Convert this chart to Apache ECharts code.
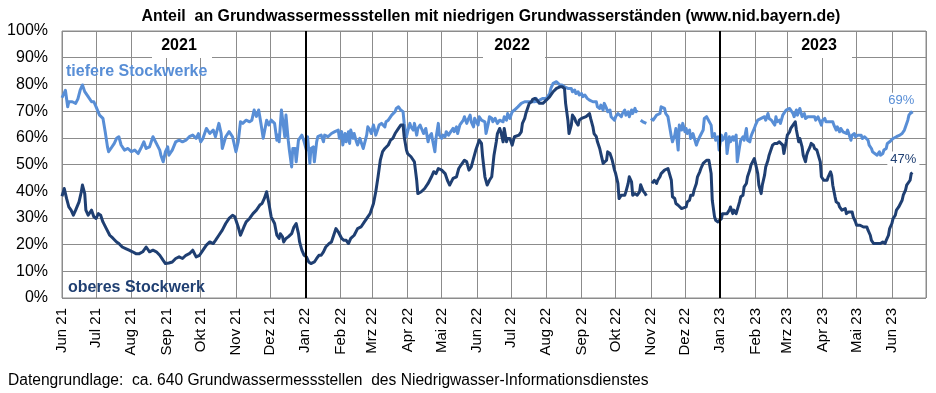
<!DOCTYPE html>
<html><head><meta charset="utf-8">
<script src="https://cdn.jsdelivr.net/npm/echarts@6/dist/echarts.min.js"></script>
<style>html,body{margin:0;padding:0;background:#fff}#c{width:936px;height:393px}</style>
</head><body><div id="c"></div><script>
// Monatsnamen für die Achsenbeschriftung
const monatsNamen = ['Jan','Feb','Mrz','Apr','Mai','Jun','Jul','Aug','Sep','Okt','Nov','Dez'];
const jahre = ['2021','2022','2023'];
const titel = 'Anteil  an Grundwassermessstellen mit niedrigen Grundwasserständen (www.nid.bayern.de)';
const fussnote = 'Datengrundlage:  ca. 640 Grundwassermessstellen  des Niedrigwasser-Informationsdienstes';
const serienNamen = ['tiefere Stockwerke', 'oberes Stockwerk'];
const startJahr = 2021, startMonat = 5, startTag = 1; // 1. Juni 2021
const anzahlTage = 761; // bis 1. Juli 2023

// Werte: [Tag seit 1. Juni 2021, Anteil in %]
const tiefere = [
[0,75],[3,77.8],[5,71.6],[6,73.5],[9,73.5],[12,72.9],[14,74.6],[16,77.9],[18,79.8],[20,77.3],[23,75.4],[26,73.5],[28,73.5],[30,71.6],[33,68.5],[36,67.3],[38,62.3],[40,56.6],[41,54.8],[43,56],[46,57.9],[48,59.8],[50,60.4],[52,57.3],[55,55.4],[58,56],[61,54.8],[64,55.4],[67,54.1],[70,56.6],[72,58.5],[74,56],[77,56.6],[80,60.4],[83,57.9],[86,55.4],[87,53.5],[89,51],[91,54.8],[93,56.6],[94,53.5],[97,55.4],[100,58.5],[103,59.1],[106,58.5],[109,59.1],[112,60.4],[115,61],[118,59.8],[120,61.6],[122,58.5],[124,59.8],[127,63.5],[130,61.6],[133,62.9],[135,60.4],[138,65.4],[140,61.6],[141,56],[144,60.4],[147,62.3],[150,60.4],[153,54.8],[155,58.5],[157,66],[159,65.4],[162,66.6],[165,66],[167,66.6],[169,70.4],[171,68],[173,70.4],[175,65.4],[177,59.8],[180,66.6],[182,64.8],[184,66.6],
[187,65.4],[189,59.1],[190,61],[191,58.5],[193,70.4],[194,69.8],[196,60.4],[197,68.5],[199,59.1],[200,55.4],[202,49.1],[203,56],[205,56],[206,51],[208,59.1],[209,58.5],[211,61],[212,59.8],[213,58.5],[215,55.4],[216,60.4],[218,50.4],[219,56],[221,56.6],[222,51],[224,58.5],[225,60.4],[228,61],[230,58.5],[231,61],[234,60.4],[237,61.6],[240,62.3],[243,62.9],[244,59.8],[246,62.3],[247,57.3],[249,61.6],[250,58.5],[252,62.3],[253,57.9],[254,62.9],[256,59.8],[257,61.6],[259,58.5],[260,57.3],[262,59.8],[263,58.5],[265,56],[266,55.4],[268,61],[269,64.1],[271,62.9],[272,61.6],[274,64.8],[275,62.9],[276,61],[278,63.5],[279,64.8],[281,65.4],[282,66],[284,64.1],[285,66],[287,66.6],[288,67.3],[290,68.5],[291,69.1],[293,69.8],[294,71],[296,71.6],[297,71],[298,70.4],[300,69.8],[301,65.4],[303,60.4],[304,62.3],[306,65.4],[307,64.1],[309,62.9],[310,65.4],[312,61],[313,63.5],[315,64.8],[316,64.1],[318,61.6],[319,61],[320,63.5],[322,58.5],[323,60.4],[325,61.6],[326,59.1],[328,54.8],[329,59.8],[331,65.4],[332,61],[334,59.8],[335,61],[337,60.4],[338,62.3],[340,61],[341,61.6],[342,62.3],[344,63.5],[345,62.3],[347,64.1],[348,61.6],[350,64.8],[351,65.4],[353,66.6],[354,67.9],[356,65.4],[357,66.6],[359,68.5],[360,66],[362,64.1],[363,67.3],[364,67.9],[366,64.8],[367,67.9],[369,66.6],[370,67.3],[372,66],[373,61.6],[375,65.4],[376,67.9],[378,67.3],[379,66],[381,67.3],
[383,65.4],[385,66.6],[386,67.25],[388,66],[389,67.9],[391,66.6],[392,69.1],[394,67.25],[395,68.5],[396,69.75],[398,70.4],[399,71],[401,71.6],[402,72.25],[404,72.9],[405,72.25],[407,73.5],[408,72.9],[410,73.5],[411,74.1],[413,73.5],[414,74.1],[416,73.5],[417,74.75],[418,73.5],[420,74.1],[421,73.5],[423,74.75],[424,74.1],[426,74.75],[427,75.4],[429,76.6],[430,78.5],[432,80.4],[433,79.75],[435,81],[436,80.4],[438,79.75],[439,80.4],[440,79.75],[442,79.1],[443,79.75],[445,78.5],[446,77.9],[448,78.5],[449,77.25],[451,77.9],[452,76.6],[454,77.25],[455,76],[457,76.6],[458,75.4],[460,76],[461,75.4],[462,74.75],[464,74.1],[465,74.75],[467,73.5],[468,72.9],[470,73.5],[471,71.6],[473,71],[474,72.25],[476,70.4],[477,72.9],[479,71],[480,69.75],[482,70.4],[483,67.9],[484,67.25],[486,66.6],[487,67.9],[489,69.1],[490,69.75],[492,67.9],[493,69.1],[495,70.4],[496,68.5],[498,69.75],[499,67.9],[501,70.4],[502,69.1],[504,71],[505,69.75],[506,70.4],[507,null],[509,66.6],[511,66],[512,65.4],[514,65.4],[516,null],[518,67.25],[520,66.6],[521,66],[523,68.5],[524,67.9],[526,69.1],[527,71.6],[528,72.25],[530,71],[531,69.1],[533,67.9],[534,67.25],[536,60.4],[537,58.5],[539,61],[540,63.5],[542,55.4],[543,64.75],[545,62.9],[546,65.4],[548,62.25],[549,63.5],[550,61.6],[552,62.9],[553,59.75],[555,61.6],[556,62.25],[558,57.25],[559,58.5],[561,60.4],[562,61],[564,62.9],[565,67.25],[567,67.9],[568,68.5],
[571,64.75],[572,60.4],[574,61.6],[575,59.1],[577,60.4],[578,55.4],[580,61],[581,59.1],[583,60.4],[584,61.6],[585,54.1],[587,60.4],[588,58.5],[590,60.4],[591,59.1],[593,61],[594,51],[596,56.6],[597,59.1],[599,60.4],[600,59.1],[602,63.5],[603,59.1],[605,58.5],[606,60.4],[607,61.6],[609,63.5],[610,64.75],[612,66.6],[613,66],[615,67.25],[616,66.6],[618,67.9],[619,66.6],[621,69.1],[622,67.25],[624,66.6],[625,66],[627,64.75],[628,67.9],[629,66],[631,66.6],[632,65.4],[634,68.5],[635,69.1],[637,70.4],[638,69.75],[640,71],[641,70.4],[643,69.1],[644,67.9],[646,70.4],[647,68.5],[649,71],[650,71.6],[651,67.9],[653,69.1],[654,67.25],[656,67.9],[657,68.5],[659,67.9],[660,67.25],[662,67.9],[663,66.6],[665,67.9],[666,67.9],[668,64.75],[669,66.6],[671,67.25],[672,66],[673,66.6],[675,66],[676,65.4],[678,66],[679,64.75],[681,62.9],[682,64.1],[684,62.25],[685,63.5],[687,62.25],[688,62.9],[690,61.6],[691,62.9],[693,60.4],[694,59.1],[695,61],[697,61.6],[698,60.4],[700,61],[701,60.4],[703,61],[704,59.75],[706,60.4],[707,59.75],[709,59.1],[710,57.25],[712,56],[713,54.75],[715,54.1],[716,54.75],[717,53.5],[719,54.75],[720,53.5],[722,54.1],[723,55.4],[725,56],[726,57.9],[728,58.5],[729,59.1],[731,59.75],[732,59.1],[734,60.4],[735,59.75],[737,61],[738,60.4],[739,61.6],[741,62.9],[742,63.5],[744,66.6],[745,68.5],[747,69.6],[748,69]
];

const oberes = [
[0,38.1],[2,41],[4,37.3],[6,34.1],[8,32.9],[10,31],[12,32.9],[15,36],[17,39.8],[18,42.3],[20,39.1],[21,32.9],[23,31],[26,32.9],[28,30.4],[30,29.8],[32,31.6],[34,31],[36,28.5],[39,26],[42,23.5],[45,22.3],[48,21],[50,20.4],[53,19.1],[56,18.5],[59,17.9],[62,17.3],[65,16.6],[68,16.6],[71,17.3],[74,19.1],[77,17.3],[80,17.9],[83,17.3],[86,16],[89,14.1],[91,12.9],[94,13.1],[97,13.5],[100,14.8],[103,15.4],[106,14.8],[109,16],[112,16.6],[115,17.9],[118,15.4],[121,16],[124,17.9],[127,19.8],[130,21],[133,20.4],[135,21.6],[138,23.5],[141,25.4],[144,27.9],[147,29.8],[150,31],[152,30.4],[155,26.6],[157,23.5],[160,26.6],[162,28.5],[165,29.8],[168,31.6],[171,32.9],[174,34.8],[176,35.4],[178,37.3],[180,39.8],[182,35.4],[184,30.4],
[187,27.9],[189,23.5],[191,22.3],[192,24.1],[194,22.9],[195,21],[197,22.3],[199,22.9],[202,24.1],[204,26.6],[206,27.9],[208,24.1],[209,21],[211,17.9],[213,16],[215,15.4],[217,13.5],[219,12.9],[222,13.5],[224,14.8],[226,16],[228,16],[230,17.3],[232,19.1],[235,20.4],[237,21],[239,23.5],[241,26],[243,24.8],[246,22.3],[248,21.6],[250,21.6],[252,20.4],[254,22.3],[257,23.5],[260,26],[263,26.6],[266,28.5],[269,30.4],[271,31.6],[274,35.4],[276,39.8],[278,45.4],[280,51.6],[282,54.8],[284,56],[287,57.3],[289,59.1],[291,59.8],[293,61.6],[296,63.5],[298,64.8],[300,64.8],[301,60.4],[303,55.4],[304,54.1],[307,52.9],[310,51],[312,44.1],[313,39.1],[316,39.8],[319,41],[322,42.9],[325,45.4],[327,47.3],[329,46.6],[331,48.5],[334,47.9],[337,46.6],[339,44.1],[341,42.3],[344,44.8],[347,45.4],[349,48.5],[351,49.8],[354,51.6],[356,51],[358,47.9],[360,49.1],[362,52.3],[364,55.4],[367,59.1],[369,57.9],[370,52.9],[372,45.4],[374,42.3],[376,44.1],[378,45.4],
[380,53.5],[382,58.5],[383,61.6],[385,63.5],[386,62.25],[388,58.5],[389,63.5],[391,58.5],[392,59.75],[394,59.75],[395,58.5],[396,57.25],[398,60.4],[399,61],[402,61],[404,62.25],[405,65.4],[407,67.25],[408,69.1],[410,71.6],[411,72.9],[413,73.5],[414,74.4],[416,74.75],[417,74.75],[418,74.1],[420,72.9],[421,72.25],[423,72.9],[424,73.5],[426,74.1],[427,73.5],[429,75.4],[430,76],[432,77.25],[433,77.9],[435,78.5],[438,79.1],[440,79.1],[442,78.5],[443,72.9],[445,66.6],[446,61.6],[448,64.75],[449,68.5],[451,67.25],[452,66],[454,64.75],[455,66.6],[457,67.25],[458,67.25],[461,67.9],[464,69.1],[465,67.25],[467,64.1],[468,61.6],[470,60.4],[471,58.5],[473,56],[474,54.1],[476,50.4],[477,50.4],[479,51.6],[480,54.75],[482,54.1],[483,52.9],[484,51.6],[486,47.9],[487,46.6],[489,42.9],[490,37.25],[492,38.5],[493,39.1],[495,38.5],[496,39.75],[498,42.9],[499,45.4],[501,43.5],[502,38.5],[504,39.1],[505,39.1],[506,38.5],[508,39.75],[509,42.4],[511,40.25],[513,39.1],[514,38.3],[516,null],[519,42.9],[521,44.1],[523,42.9],[524,44.1],[526,45.4],[527,46.6],[528,47.25],[530,47.9],[531,48.5],[533,48.5],[534,47.9],[536,44.1],[537,37.9],[539,37.25],[540,35.4],[542,34.75],[543,34.1],[545,33.5],[546,33.9],[549,34.1],[550,36],[552,36.6],[553,38.5],[555,38.5],[556,40.4],[558,42.9],[559,45.4],[561,47.25],[562,48.5],[564,50.4],[565,49.75],[567,51.6],[568,52.25],
[569,51.6],[571,46.6],[572,36.6],[574,30.4],[575,29.1],[577,28.5],[578,28.5],[580,29.75],[581,31.6],[583,31.6],[584,32.25],[585,31.6],[587,32.9],[588,34.1],[590,31.6],[591,32.9],[593,31.6],[594,32.25],[596,36],[597,37.9],[599,38.5],[600,41.6],[602,42.9],[603,45.4],[605,47.9],[606,49.75],[607,50.4],[609,52.25],[610,50.4],[612,46.6],[613,42.25],[615,39.1],[616,42.25],[618,46],[619,49.1],[621,51.6],[622,53.5],[624,56],[625,57.25],[627,57.9],[628,58.5],[629,57.9],[631,58.5],[632,59.1],[634,57.25],[635,54.1],[637,58.5],[638,61],[640,62.25],[641,63.5],[643,64.75],[644,65.4],[645,66],[646,62.9],[648,58.5],[649,59.75],[651,56.6],[652,53.5],[654,51],[655,53.5],[656,54.75],[658,56.6],[659,57.9],[661,57.25],[662,56],[664,55.4],[665,54.75],[667,51],[668,45.4],[670,44.1],[671,43.5],[673,44.1],[674,45.4],[676,47.25],[677,46],[678,42.25],[680,37.9],[681,36],[683,35.4],[684,34.1],[686,32.9],[687,32.25],[689,33.5],[690,31.6],[692,32.25],[693,31.6],[695,32.25],[696,30.4],[698,28.5],[699,27.25],[700,27.9],[702,27.25],[703,27.25],[705,26.6],[706,27.25],[708,26.6],[709,25.4],[711,23.5],[712,21.6],[714,20.4],[715,21],[717,20.4],[718,21],[720,20.4],[721,20.4],[722,21],[724,20.4],[725,21.6],[727,23.5],[728,26],[730,27.9],[731,29.75],[733,31],[734,32.9],[736,34.1],[737,34.75],[739,36.6],[740,38.5],[742,40.4],[743,42.25],[744,42.9],[746,44.1],[747,46.6],[748,47]
];

// Kategorien: ein Eintrag pro Tag
const kategorien = [];
for (let i = 0; i < anzahlTage; i++) {
  const d = new Date(Date.UTC(startJahr, startMonat, startTag + i));
  kategorien.push(d.toISOString().slice(0, 10));
}
const istMonatsanfang = (idx, val) => val.slice(8, 10) === '01';
const monatsLabel = (val) => monatsNamen[parseInt(val.slice(5, 7), 10) - 1] + ' ' + val.slice(2, 4);
const jahresWechsel = kategorien.filter(k => k.slice(5) === '01-01');

const toSeries = arr => arr.map(([t, v]) => [kategorien[t], v == null ? '-' : v]);
const letzter = arr => { const p = arr[arr.length - 1]; return [kategorien[p[0]], p[1]]; };

const HELL = '#588ED6', DUNKEL = '#1F3F72', GRID = '#8C8C8C';
const FONT = '"Liberation Sans", Arial, sans-serif';

const chart = echarts.init(document.getElementById('c'), null, { renderer: 'canvas' });
chart.setOption({
  animation: false,
  backgroundColor: '#fff',
  grid: { left: 62, right: 10, top: 31, bottom: 95, show: true, borderColor: GRID, borderWidth: 1, backgroundColor: 'transparent' },
  xAxis: {
    type: 'category', data: kategorien, boundaryGap: false,
    axisLine: { show: false }, axisTick: { show: false },
    axisLabel: {
      interval: (i, v) => i < anzahlTage - 1 && istMonatsanfang(i, v),
      formatter: monatsLabel, rotate: 90, margin: 10,
      fontFamily: FONT, fontSize: 15, color: '#000'
    },
    splitLine: { show: true, interval: istMonatsanfang, lineStyle: { color: GRID, width: 1 } }
  },
  yAxis: {
    type: 'value', min: 0, max: 100, interval: 10,
    axisLine: { show: false }, axisTick: { show: false },
    axisLabel: { formatter: '{value}%', margin: 14, fontFamily: FONT, fontSize: 16, color: '#000' },
    splitLine: { lineStyle: { color: GRID, width: 1 } }
  },
  series: [
    {
      name: serienNamen[0], type: 'line', data: toSeries(tiefere), showSymbol: false, symbol: 'none',
      connectNulls: false, lineStyle: { color: HELL, width: 3, join: 'round' }, itemStyle: { color: HELL }, z: 3,
      markPoint: {
        symbol: 'circle', symbolSize: 0, silent: true,
        data: [{ coord: letzter(tiefere), value: Math.round(letzter(tiefere)[1]) }],
        label: { show: true, position: 'top', distance: 6, offset: [-11, 0], formatter: p => p.value + '%',
          color: HELL, fontFamily: FONT, fontSize: 13, backgroundColor: '#fff', padding: [1, 3] }
      },
      markLine: {
        symbol: ['none', 'none'], silent: true, label: { show: false },
        lineStyle: { color: '#000', width: 2, type: 'solid' },
        data: jahresWechsel.map(k => ({ xAxis: k }))
      }
    },
    {
      name: serienNamen[1], type: 'line', data: toSeries(oberes), showSymbol: false, symbol: 'none',
      connectNulls: false, lineStyle: { color: DUNKEL, width: 3, join: 'round' }, itemStyle: { color: DUNKEL }, z: 4,
      markPoint: {
        symbol: 'circle', symbolSize: 0, silent: true,
        data: [{ coord: letzter(oberes), value: Math.round(letzter(oberes)[1]) }],
        label: { show: true, position: 'top', distance: 6, offset: [-9, 0], formatter: p => p.value + '%',
          color: DUNKEL, fontFamily: FONT, fontSize: 13, backgroundColor: '#fff', padding: [1, 3] }
      }
    }
  ],
  graphic: [
    { type: 'text', x: 491, y: 17, z: 100, style: { text: titel, font: 'bold 15.9px ' + FONT, fill: '#000', align: 'center', verticalAlign: 'middle' } },
    { type: 'text', x: 8, y: 381, z: 100, style: { text: fussnote, font: '15.6px ' + FONT, fill: '#000', align: 'left', verticalAlign: 'middle' } },
    { type: 'rect', z: 50, shape: { x: 152, y: 32, width: 60, height: 26 }, style: { fill: '#fff' } },
    { type: 'rect', z: 50, shape: { x: 483, y: 32, width: 62, height: 26 }, style: { fill: '#fff' } },
    { type: 'rect', z: 50, shape: { x: 792, y: 32, width: 60, height: 26 }, style: { fill: '#fff' } },
    { type: 'text', x: 179, y: 45.5, z: 100, style: { text: jahre[0], font: 'bold 16px ' + FONT, fill: '#000', align: 'center', verticalAlign: 'middle' } },
    { type: 'text', x: 512, y: 45.5, z: 100, style: { text: jahre[1], font: 'bold 16px ' + FONT, fill: '#000', align: 'center', verticalAlign: 'middle' } },
    { type: 'text', x: 819, y: 45.5, z: 100, style: { text: jahre[2], font: 'bold 16px ' + FONT, fill: '#000', align: 'center', verticalAlign: 'middle' } },
    { type: 'text', x: 66, y: 72, z: 100, style: { text: serienNamen[0], font: 'bold 16px ' + FONT, fill: HELL, align: 'left', verticalAlign: 'middle' } },
    { type: 'text', x: 68, y: 288, z: 100, style: { text: serienNamen[1], font: 'bold 16px ' + FONT, fill: DUNKEL, align: 'left', verticalAlign: 'middle' } }
  ]
});
</script></body></html>
